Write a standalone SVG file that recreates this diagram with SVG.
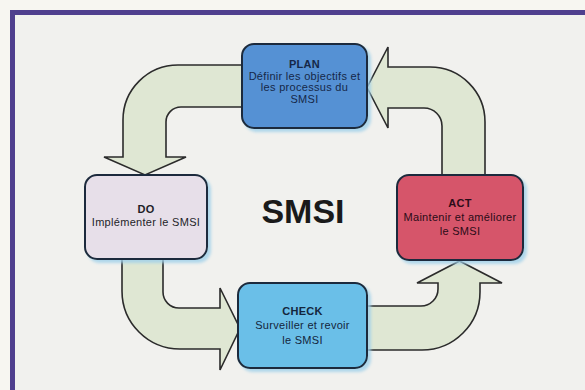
<svg xmlns="http://www.w3.org/2000/svg" width="585" height="390" viewBox="0 0 585 390">
  <defs>
    <filter id="glow" x="-10%" y="-10%" width="125%" height="125%">
      <feDropShadow dx="3" dy="3" stdDeviation="1.5" flood-color="#9fd0ea" flood-opacity="0.8"/>
    </filter>
  </defs>
  <style>
    .flow { fill: #dfe7d3; stroke: #2b2b2b; stroke-width: 1.6; stroke-linejoin: miter; }
    .box { stroke: #1f2c3c; stroke-width: 2; filter: url(#glow); }
    .title { font-family: "Liberation Sans", Arial, sans-serif; font-size: 11px; font-weight: bold; text-anchor: middle; letter-spacing: 0.3px; }
    .body { font-family: "Liberation Sans", Arial, sans-serif; font-size: 11px; text-anchor: middle; letter-spacing: 0.3px; }
  </style>

  <!-- page and frame -->
  <rect x="0" y="0" width="585" height="390" fill="#f7f6f1"/>
  <rect x="12.5" y="12.5" width="600" height="400" fill="#f1f1ee" stroke="#4f3f8e" stroke-width="5"/>

  <!-- cycle arrows -->
  <g id="connectors">
    <!-- PLAN to DO -->
    <path class="flow" d="M 242,65 L 178,65 A 55,55 0 0 0 123,120 L 123,157 L 104,157 L 145,175 L 186,157 L 166,157 L 166,122 A 15,15 0 0 1 181,107 L 242,107"/>
    <!-- DO to CHECK -->
    <path class="flow" d="M 122,259 L 122,291 A 58,58 0 0 0 180,349 L 220,349 L 220,370 L 240,328.5 L 220,288 L 220,308 L 179,308 A 16,16 0 0 1 163,292 L 163,259"/>
    <!-- CHECK to ACT -->
    <path class="flow" d="M 367,306 L 421,306 A 17,17 0 0 0 438,289 L 438,283 L 417,283 L 459.5,261 L 502,283 L 480,283 L 480,292 A 58,58 0 0 1 422,350 L 367,350"/>
    <!-- ACT to PLAN -->
    <path class="flow" d="M 442,175 L 442,126 A 18,18 0 0 0 424,108 L 388,108 L 388,128 L 367,87.5 L 388,47 L 388,67 L 430,67 A 55,55 0 0 1 485,122 L 485,175"/>
  </g>

  <g id="plan">
    <rect class="box" x="242" y="44" width="125" height="84" rx="12" fill="#5591d4"/>
    <text class="title" x="304.5" y="68" fill="#152848">PLAN</text>
    <text class="body" x="304.5" y="79.7" fill="#152848">Définir les objectifs et</text>
    <text class="body" x="304.5" y="91.4" fill="#152848">les processus du</text>
    <text class="body" x="304.5" y="103.1" fill="#152848">SMSI</text>
  </g>

  <g id="do">
    <rect class="box" x="85" y="175" width="122" height="84" rx="12" fill="#e7dfe9"/>
    <text class="title" x="146" y="213" fill="#1e1e28">DO</text>
    <text class="body" x="146" y="225.7" fill="#1e1e28">Implémenter le SMSI</text>
  </g>

  <g id="act">
    <rect class="box" x="397" y="175" width="126" height="85" rx="12" fill="#d6546b"/>
    <text class="title" x="460" y="207" fill="#2a0c18">ACT</text>
    <text class="body" x="460" y="221" fill="#2a0c18">Maintenir et améliorer</text>
    <text class="body" x="460" y="235" fill="#2a0c18">le SMSI</text>
  </g>

  <g id="check">
    <rect class="box" x="238" y="283" width="129" height="85" rx="12" fill="#6bbfe8"/>
    <text class="title" x="302.5" y="315" fill="#14263c">CHECK</text>
    <text class="body" x="302.5" y="329" fill="#14263c">Surveiller et revoir</text>
    <text class="body" x="302.5" y="343.5" fill="#14263c">le SMSI</text>
  </g>

  <!-- centre label -->
  <text x="303" y="223" font-family="Liberation Sans, Arial, sans-serif" font-size="34" font-weight="bold" text-anchor="middle" fill="#1a1a1a">SMSI</text>
</svg>
